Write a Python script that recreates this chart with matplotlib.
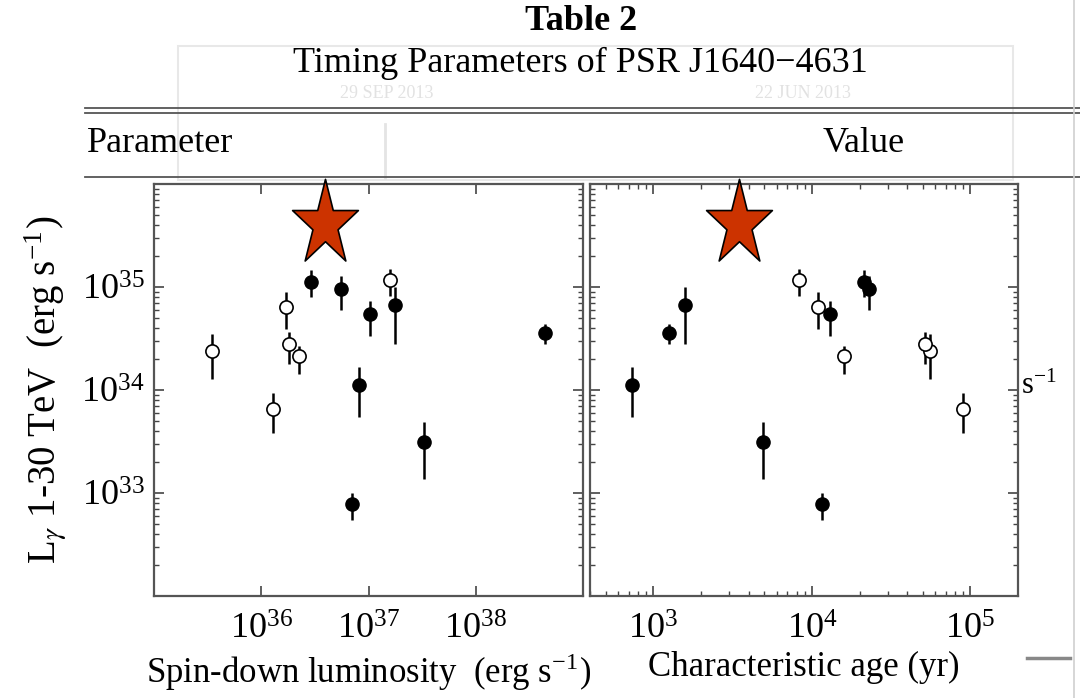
import numpy as np
import matplotlib
matplotlib.use("Agg")
import matplotlib.pyplot as plt
from matplotlib.path import Path
from matplotlib.lines import Line2D
from matplotlib.patches import Rectangle

plt.rcParams['font.family'] = ['Liberation Serif', 'DejaVu Serif']
plt.rcParams['mathtext.fontset'] = 'stix'

# pulsars, ordered by spin-down luminosity
edot = [3.51e35, 1.30e36, 1.70e36, 1.80e36, 2.26e36, 2.90e36, 5.56e36,
        6.97e36, 8.09e36, 1.03e37, 1.58e37, 1.76e37, 3.31e37, 4.40e38]
age = [55500, 89900, 11000, 51600, 16000, 21400, 23000,
       11500, 738, 13000, 8240, 1580, 4900, 1260]
lgam = [2.41e34, 6.61e33, 6.38e34, 2.80e34, 2.12e34, 1.12e35, 9.48e34,
        7.82e32, 1.11e34, 5.41e34, 1.17e35, 6.62e34, 3.15e33, 3.58e34]
lgam_hi = [3.51e34, 9.25e33, 8.93e34, 3.64e34, 2.70e34, 1.46e35, 1.27e35,
           1.00e33, 1.66e34, 7.29e34, 1.49e35, 1.00e35, 4.93e33, 4.39e34]
lgam_lo = [1.28e34, 3.85e33, 3.92e34, 1.79e34, 1.43e34, 7.98e34, 6.01e34,
           5.50e32, 5.47e33, 3.37e34, 8.11e34, 2.80e34, 1.38e33, 2.80e34]
filled = [0, 0, 0, 0, 0, 1, 1, 1, 1, 1, 0, 1, 1, 1]

# PSR J1640-4631
star_edot, star_age, star_l = 3.9e36, 3490, 4.07e35

lgam = np.array(lgam)
yerr = [lgam - np.array(lgam_lo), np.array(lgam_hi) - lgam]
filled = np.array(filled, dtype=bool)

# slightly tall star marker (the source image is stretched)
ang = np.deg2rad(90 + 36 * np.arange(10))
rad = np.where(np.arange(10) % 2 == 0, 1.0, 0.382)
verts = np.column_stack([rad * np.cos(ang), 1.305 * rad * np.sin(ang)])
verts = np.vstack([verts, verts[:1]])
star = Path(verts, [Path.MOVETO] + [Path.LINETO] * 9 + [Path.CLOSEPOLY])

fig = plt.figure(figsize=(10.8, 6.98), dpi=100, facecolor="white")
W, H = 1080, 698

def fx(px):
    return px / W

def fy(py):
    return 1 - py / H

# --- the table header that sits behind the plot ---
fig.add_artist(Rectangle((fx(178), fy(180)), fx(1013) - fx(178), fy(46) - fy(180),
                         transform=fig.transFigure, fill=False, ec="#e8e8e8", lw=1.5, zorder=-2))
fig.text(fx(387), fy(93), "29 SEP 2013", fontsize=13, color="#e2e2e2", ha="center", va="center", zorder=-2)
fig.text(fx(803), fy(93), "22 JUN 2013", fontsize=13, color="#e2e2e2", ha="center", va="center", zorder=-2)
fig.add_artist(Line2D([fx(385), fx(385)], [fy(124), fy(178)], transform=fig.transFigure,
                      color="#e4e4e4", lw=2, zorder=-2))

fig.text(fx(581), fy(22), "Table 2", fontsize=26, fontweight="bold", ha="center", va="center")
fig.text(fx(580), fy(63), "Timing Parameters of PSR J1640\u22124631", fontsize=26, ha="center", va="center")
for yy in (108, 113, 177):
    fig.add_artist(Line2D([fx(85), 1.0], [fy(yy), fy(yy)], transform=fig.transFigure,
                          color="#555555", lw=1.3, zorder=-1))
fig.text(fx(87), fy(143), "Parameter", fontsize=26, ha="left", va="center")
fig.text(fx(823), fy(143), "Value", fontsize=26, ha="left", va="center")
fig.text(fx(1021), fy(386), r"$\mathdefault{s^{-1}}$", fontsize=22, ha="left", va="center", zorder=-1)
fig.add_artist(Line2D([fx(1074), fx(1074)], [0, 1], transform=fig.transFigure,
                      color="#d0d0d0", lw=1.2, zorder=-1))
fig.add_artist(Line2D([fx(1027), fx(1070)], [fy(658), fy(658)], transform=fig.transFigure,
                      color="#888888", lw=2.5, zorder=-1))

# --- the two panels ---
ax1 = fig.add_axes([fx(154), fy(596), fx(583) - fx(154), fy(184) - fy(596)])
ax2 = fig.add_axes([fx(590), fy(596), fx(1018) - fx(590), fy(184) - fy(596)])

for ax, xv, sx in ((ax1, edot, star_edot), (ax2, age, star_age)):
    xv = np.array(xv)
    ax.errorbar(xv, lgam, yerr=yerr, fmt="none", ecolor="black", elinewidth=1.8, capsize=0, zorder=2)
    ax.plot(xv[filled], lgam[filled], "o", ms=9.5, mfc="black", mec="black", zorder=3)
    ax.plot(xv[~filled], lgam[~filled], "o", ms=9.5, mfc="white", mec="black", mew=1.2, zorder=3)
    ax.plot([sx], [star_l], marker=star, ms=65, mfc="#cc3300", mec="black", mew=1.2,
            ls="none", clip_on=False, zorder=5)
    ax.set_xscale("log")
    ax.set_yscale("log")
    ax.set_ylim(1e32, 1e36)
    ax.tick_params(which="both", direction="in", top=True, right=True, colors="#444444",
                   labelcolor="black", labelsize=26)
    ax.tick_params(which="major", length=7, width=1.2)
    ax.tick_params(which="minor", length=3.5, width=1.0)
    ax.tick_params(axis="x", pad=13)
    for s in ax.spines.values():
        s.set_color("#555555")
        s.set_linewidth(1.6)

ax1.set_xlim(1e35, 1e39)
ax1.set_xticks([1e36, 1e37, 1e38])
ax1.set_yticks([1e33, 1e34, 1e35])
ax1.tick_params(axis="y", pad=7)
ax2.set_xlim(10 ** 2.6, 10 ** 5.3)
ax2.set_xticks([1e3, 1e4, 1e5])
ax2.set_yticks([1e33, 1e34, 1e35])
ax2.tick_params(axis="y", labelleft=False)

ax1.set_xlabel(r"Spin-down luminosity  (erg s$^{\mathdefault{-1}}$)", fontsize=25, labelpad=3)
ax2.set_xlabel("Characteristic age (yr)", fontsize=25, labelpad=3)
ax1.set_ylabel(r"L$_{\gamma}$ 1-30 TeV  (erg s$^{\mathdefault{-1}}$)", fontsize=28, labelpad=8)

fig.savefig("out.png", dpi=100, facecolor="white")
